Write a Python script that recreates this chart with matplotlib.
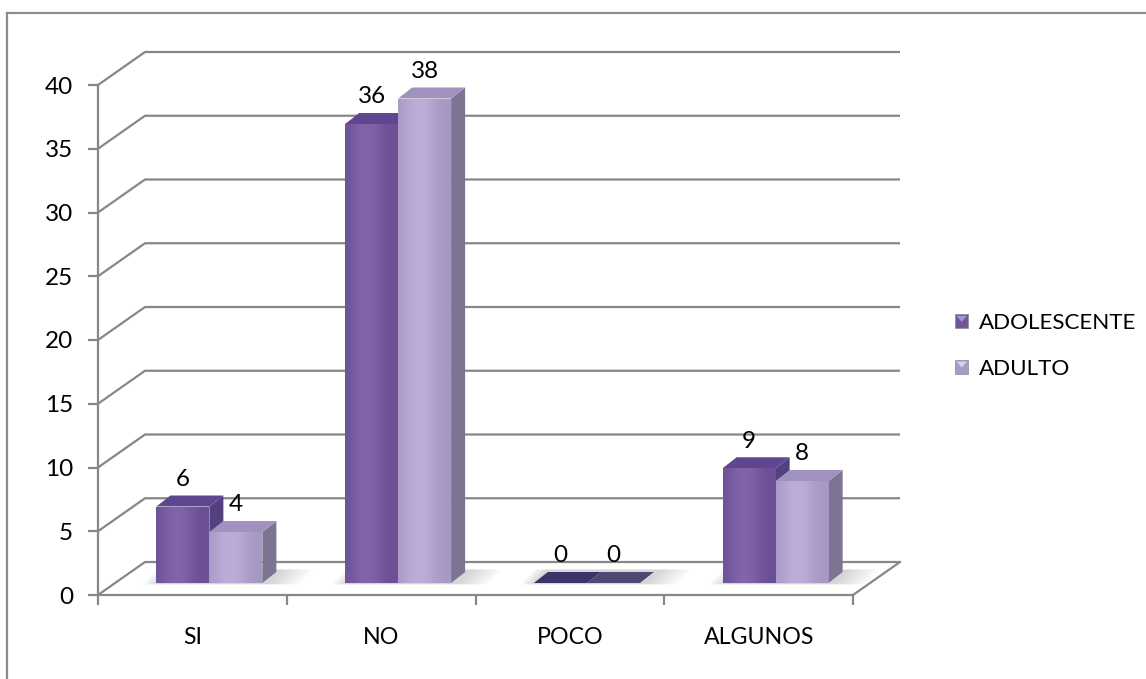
import numpy as np
import matplotlib
matplotlib.use("Agg")
import matplotlib.pyplot as plt
from matplotlib.patches import Polygon, Rectangle
from matplotlib.legend_handler import HandlerBase
from matplotlib.lines import Line2D

plt.rcParams["font.family"] = ["Lato", "DejaVu Sans"]

# ---- data -------------------------------------------------------------
categories = ["SI", "NO", "POCO", "ALGUNOS"]
series_names = ["ADOLESCENTE", "ADULTO"]
adolescente = [6, 36, 0, 9]
adulto = [4, 38, 0, 8]
y_ticks = [0, 5, 10, 15, 20, 25, 30, 35, 40]

# ---- styling ----------------------------------------------------------
W, H = 1146, 679
FS = 17.5
GRID_C = "#878787"
face_front = ["#7557a3", "#b5a6d4"]
face_top = ["#5f4690", "#a092bf"]
face_side = ["#55407f", "#7d7494"]
face_zero = ["#3a3468", "#4e4872"]

fig = plt.figure(figsize=(W / 100, H / 100), dpi=100)

# outer chart-area frame (only top and left edges are inside the canvas)
fig.add_artist(Line2D([7 / W, 7 / W], [0, 1 - 13 / H], transform=fig.transFigure,
                      color="#8c8c8c", lw=1.6))
fig.add_artist(Line2D([7 / W, 1], [1 - 13 / H, 1 - 13 / H], transform=fig.transFigure,
                      color="#8c8c8c", lw=1.6))

ax_l, ax_r, ax_b, ax_t = 98, 853, 595, 85
ax = fig.add_axes([ax_l / W, 1 - ax_b / H, (ax_r - ax_l) / W, (ax_b - ax_t) / H])
ncat = len(categories)
ax.set_xlim(0, ncat)
ax.set_ylim(0, 40)

px_x = (ax_r - ax_l) / ncat      # pixels per category
px_y = (ax_b - ax_t) / 40.0      # pixels per value unit

# oblique depth vectors (data units)
floor_dx, floor_dy = 47 / px_x, 33 / px_y
shift_dx, shift_dy = 17 / px_x, 12 / px_y
bar_dx, bar_dy = 14 / px_x, 11 / px_y
bar_w = 53 / px_x

# back wall gridlines with diagonal return to the front axis
for v in y_ticks:
    ax.plot([0, floor_dx, ncat + floor_dx], [v, v + floor_dy, v + floor_dy],
            color=GRID_C, lw=1.6, solid_capstyle="butt", clip_on=False, zorder=1)
# right edge of the floor
ax.plot([ncat, ncat + floor_dx], [0, floor_dy], color=GRID_C, lw=1.6,
        clip_on=False, zorder=1)

# axes spines / ticks
for s in ["top", "right"]:
    ax.spines[s].set_visible(False)
for s in ["left", "bottom"]:
    ax.spines[s].set_color(GRID_C)
    ax.spines[s].set_linewidth(1.6)
ax.set_yticks(y_ticks)
ax.set_yticklabels([str(t) for t in y_ticks], fontsize=FS)
ax.tick_params(axis="y", length=7, width=1.6, color=GRID_C, pad=11)
ax.set_xticks(np.arange(ncat + 1))
ax.set_xticklabels([])
ax.tick_params(axis="x", which="major", length=7, width=1.6, color=GRID_C)
ax.set_xticks(np.arange(ncat) + 0.5, minor=True)
ax.set_xticklabels(categories, minor=True, fontsize=FS * 0.95)
ax.tick_params(axis="x", which="minor", length=0, pad=23)
ax.set_facecolor("none")


def add_poly(pts, color, z, alpha=1.0, ec="none"):
    p = Polygon(pts, closed=True, facecolor=color, edgecolor=ec, lw=0.6,
                alpha=alpha, zorder=z, clip_on=False)
    ax.add_patch(p)
    return p


values = [adolescente, adulto]
base = shift_dy
for i in range(ncat):
    c = i + 0.5 + shift_dx
    # soft floor shadow under the pair of bars
    x0g, x1g = c - bar_w, c + bar_w
    for grow in np.linspace(0.14, 0.0, 8):
        add_poly([(x0g - grow * 0.5, base - 0.1),
                  (x1g + grow * 1.1 + 0.04, base - 0.1),
                  (x1g + grow * 1.1 + 0.04 + bar_dx, base + bar_dy + 0.2),
                  (x0g - grow * 0.5 + bar_dx, base + bar_dy + 0.2)],
                 "#6a6a6a", 2, alpha=0.035)
    for s in range(2):
        v = values[s][i]
        x0 = c - bar_w + s * bar_w
        x1 = x0 + bar_w
        top = base + v
        z = 3 + i * 0.1 + s * 0.01
        if v == 0:
            add_poly([(x0, base), (x1, base), (x1 + bar_dx, base + bar_dy),
                      (x0 + bar_dx, base + bar_dy)], face_zero[s], z)
        else:
            # side, top, front faces
            add_poly([(x1, base), (x1 + bar_dx, base + bar_dy),
                      (x1 + bar_dx, top + bar_dy), (x1, top)], face_side[s], z)
            add_poly([(x0, top), (x1, top), (x1 + bar_dx, top + bar_dy),
                      (x0 + bar_dx, top + bar_dy)], face_top[s], z)
            front = add_poly([(x0, base), (x1, base), (x1, top), (x0, top)],
                             face_front[s], z)
            # subtle horizontal sheen on the front face
            grad = np.linspace(0, 1, 64)
            sheen = np.exp(-((grad - 0.4) ** 2) / 0.08)[None, :]
            im = ax.imshow(sheen, extent=(x0, x1, base, top), aspect="auto",
                           cmap="Greys_r", alpha=0.08, zorder=z + 0.001,
                           interpolation="bilinear")
            im.set_clip_path(front)
        ax.annotate(str(v), (x0 + bar_w / 2, top), xytext=(0, 19.5),
                    textcoords="offset points", ha="center", va="center",
                    fontsize=FS, zorder=10, annotation_clip=False)

ax.set_xlim(0, ncat)
ax.set_ylim(0, 40)


class BevelHandler(HandlerBase):
    def __init__(self, face, light):
        super().__init__()
        self.face, self.light = face, light

    def create_artists(self, legend, orig_handle, xd, yd, width, height,
                       fontsize, trans):
        s = min(width, height)
        x0, y0 = xd + (width - s) / 2 - xd * 2, yd + (height - s) / 2 - yd * 2
        sq = Rectangle((x0, y0), s, s, facecolor=self.face, edgecolor="#8c84a0",
                       lw=0.5, transform=trans)
        tri = Polygon([(x0 + 1, y0 + s - 1), (x0 + s - 1, y0 + s - 1),
                       (x0 + s / 2, y0 + s * 0.45)], closed=True,
                      facecolor=self.light, edgecolor="none", transform=trans)
        return [sq, tri]


h1, h2 = Rectangle((0, 0), 1, 1), Rectangle((0, 0), 1, 1)
ax.legend([h1, h2], series_names, loc="upper left",
          bbox_to_anchor=(955 / W, 1 - 313 / H), bbox_transform=fig.transFigure,
          frameon=False, fontsize=FS * 0.92, handlelength=0.6, handleheight=0.6,
          handletextpad=0.45, labelspacing=1.15, borderpad=0, borderaxespad=0,
          handler_map={h1: BevelHandler("#6f559c", "#a894cc"),
                       h2: BevelHandler("#a99bc8", "#d8cfec")})

fig.savefig("out.png", dpi=100, facecolor="white")
